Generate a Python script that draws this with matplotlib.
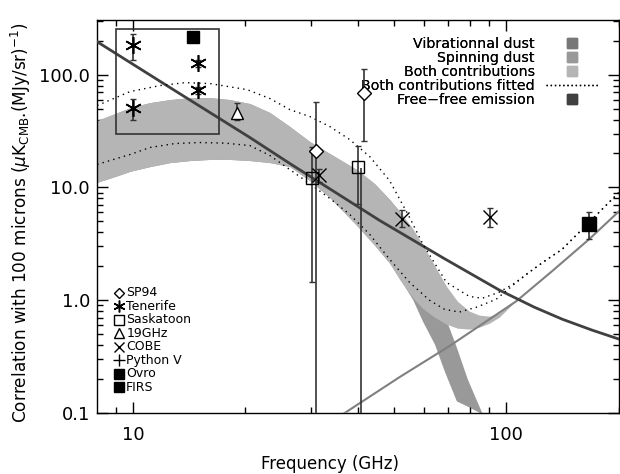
import matplotlib
matplotlib.use("Agg")
import matplotlib.pyplot as plt
import numpy as np
from matplotlib.lines import Line2D
from matplotlib.patches import Rectangle
from matplotlib.ticker import FixedLocator, NullFormatter

plt.rcParams['font.family'] = ['DejaVu Sans']
plt.rcParams['mathtext.fontset'] = 'dejavusans'

# ---- model curves (frequency in GHz, correlation in uK_CMB/(MJy/sr)) ----
ff_freq = [8.0, 12.56, 20.55, 26.29, 45.75, 67.9, 95.8, 118.9, 141.2, 169.8, 200.5]
ff_val = [196, 76.7, 27.7, 16.3, 5.1, 2.36, 1.23, 0.867, 0.679, 0.543, 0.452]

vib_freq = [33.0, 36.9, 51.76, 70.4, 106.4, 132.7, 166.7, 200.5]
vib_val = [0.08, 0.1, 0.208, 0.392, 0.98, 1.81, 3.47, 6.14]

both_freq = [8.01, 8.95, 9.82, 11.10, 12.56, 14.21, 16.07, 18.17, 20.55, 23.25,
             26.29, 29.74, 33.63, 39.72, 44.37, 48.67, 51.76, 56.08, 59.63, 64.20,
             69.12, 73.96, 79.63, 84.68, 90.07, 95.79, 103.8]
both_hi = [39.2, 45.2, 51.0, 56.5, 60.1, 62.5, 62.5, 60.1, 55.4, 46.1,
           34.7, 25.5, 20.0, 14.4, 10.8, 7.83, 6.14, 4.34, 3.13, 2.04,
           1.33, 0.98, 0.80, 0.737, 0.722, 0.767, 0.96]
both_lo = [11.1, 12.5, 13.9, 15.3, 16.6, 17.3, 17.7, 17.7, 17.3, 16.6,
           15.3, 11.5, 8.15, 4.61, 3.07, 2.13, 1.53, 1.06, 0.849, 0.708,
           0.613, 0.565, 0.554, 0.577, 0.625, 0.708, 0.92]

spin_freq = [8.01, 8.95, 9.82, 11.10, 12.56, 14.21, 16.07, 18.17, 20.55, 23.25,
             26.29, 29.74, 33.63, 39.72, 44.37, 48.67, 51.76, 56.08, 59.63, 64.20,
             68.24, 73.49, 78.65, 86.26]
spin_hi = [39.2, 45.2, 51.0, 56.5, 60.1, 62.5, 62.5, 60.1, 55.4, 46.1,
           34.7, 25.5, 20.0, 14.4, 10.8, 7.83, 6.14, 3.47, 2.08, 1.13,
           0.737, 0.384, 0.2, 0.098]
spin_lo = [11.1, 12.5, 13.9, 15.3, 16.6, 17.3, 17.7, 17.7, 17.3, 16.6,
           15.3, 11.5, 8.15, 4.61, 3.07, 2.13, 1.56, 1.02, 0.652, 0.408,
           0.235, 0.128, 0.115, 0.098]

fit_up_freq = [8.01, 9.82, 11.81, 13.78, 16.07, 20.2, 23.25, 26.29, 29.74, 33.63,
               38.04, 43.03, 48.67, 55.04, 59.63, 69.12, 79.63, 86.26, 95.79, 105.1,
               115.2, 126.4, 141.2, 166.7, 182.8, 200.5]
fit_up_val = [53.2, 70.8, 80.0, 84.9, 83.3, 73.6, 61.4, 49.0, 42.5, 34.7,
              26.6, 18.8, 11.5, 5.43, 3.19, 1.44, 1.08, 1.04, 1.18, 1.41,
              1.77, 2.21, 2.83, 4.90, 6.66, 9.04]
fit_lo_freq = [8.01, 9.82, 11.10, 12.95, 15.1, 17.6, 20.55, 23.25, 26.29, 29.74,
               33.63, 38.04, 43.03, 48.67, 55.04, 62.25, 68.24, 74.8, 83.2, 94.03,
               105.1, 115.2, 126.4, 141.2, 166.7, 182.8, 200.5]
fit_lo_val = [16.0, 19.6, 22.6, 24.5, 25.0, 24.7, 23.5, 19.2, 14.4, 10.8,
              8.0, 5.77, 3.84, 2.31, 1.44, 1.0, 0.832, 0.784, 0.867, 1.02,
              1.39, 1.77, 2.21, 2.83, 4.90, 6.66, 9.04]

# ---- measurements: freq, value, upper, lower ----
sp94 = dict(f=[31.0, 41.5], v=[21.2, 69.3], hi=[57.5, 113], lo=[0.01, 26])
tenerife = dict(f=[10.0, 10.0, 14.9, 14.9], v=[184, 51, 128, 73.6],
                hi=[231, 61, 136, 78], lo=[136, 40, 118, 68])
saskatoon = dict(f=[30.1, 40.0], v=[12.0, 15.3], hi=[22.6, 23.5], lo=[1.44, 7.1])
ghz19 = dict(f=[19.0], v=[46.0], hi=[56.6], lo=[39.2])
cobe = dict(f=[31.4, 52.7, 90.2], v=[12.8, 5.3, 5.5], hi=[14.6, 6.3, 6.6], lo=[11.2, 4.5, 4.5])
ovro = dict(f=[14.5], v=[217])
firs = dict(f=[166.7], v=[4.7], hi=[6.0], lo=[3.5])
long_bar_f = [40.9]
long_bar_lo = [0.01]
long_bar_hi = [15.0]

box_f = (9.0, 17.0)
box_v = (29.5, 255.0)

fig = plt.figure(figsize=(6.2, 4.74), dpi=100)
ax = fig.add_axes([97 / 620, 61 / 474, 522 / 620, 393 / 474])
ax.set_xscale('log')
ax.set_yscale('log')
ax.set_xlim(8.0, 200.5)
ax.set_ylim(0.1, 305)

# bands and model lines
ax.fill_between(spin_freq, spin_lo, spin_hi, color='#999999', lw=0, zorder=1)
ax.fill_between(both_freq, both_lo, both_hi, color='#b5b5b5', lw=0, zorder=2)
ax.plot(vib_freq, vib_val, color='#808080', lw=1.5, zorder=3)
ax.plot(ff_freq, ff_val, color='#404040', lw=2, zorder=4)
ax.plot(fit_up_freq, fit_up_val, color='black', ls=(0, (1, 3)), lw=1, zorder=4)
ax.plot(fit_lo_freq, fit_lo_val, color='black', ls=(0, (1, 3)), lw=1, zorder=4)

ebc = '#333333'
cap = 2.5


def errs(d):
    v = np.array(d['v'])
    return [v - np.array(d['lo']), np.array(d['hi']) - v]


ax.vlines(long_bar_f, long_bar_lo, long_bar_hi, color=ebc, lw=1.2, zorder=5)
ax.errorbar(sp94['f'], sp94['v'], yerr=errs(sp94), fmt='D', mfc='white', mec='black',
            ms=7, mew=1, ecolor=ebc, elinewidth=1.2, capsize=cap, zorder=6)
ax.errorbar(tenerife['f'], tenerife['v'], yerr=errs(tenerife), fmt='none',
            ecolor=ebc, elinewidth=1.2, capsize=cap, zorder=6)
ax.plot(tenerife['f'], tenerife['v'], ls='none', marker=(6, 2, 0), ms=12,
        mec='black', mew=1.2, zorder=7)
ax.errorbar(saskatoon['f'], saskatoon['v'], yerr=errs(saskatoon), fmt='s', mfc='none',
            mec='black', ms=9, mew=1, ecolor=ebc, elinewidth=1.2, capsize=cap, zorder=6)
ax.errorbar(ghz19['f'], ghz19['v'], yerr=errs(ghz19), fmt='^', mfc='white', mec='black',
            ms=9, mew=1, ecolor=ebc, elinewidth=1.2, capsize=cap, zorder=6)
ax.errorbar(cobe['f'], cobe['v'], yerr=errs(cobe), fmt='x', color='black',
            ms=10, mew=1, ecolor=ebc, elinewidth=1.2, capsize=cap, zorder=6)
ax.plot(ovro['f'], ovro['v'], ls='none', marker='s', ms=9, color='black', zorder=7)
ax.errorbar(firs['f'], firs['v'], yerr=errs(firs), fmt='s', color='black',
            ms=10, ecolor=ebc, elinewidth=1.2, capsize=cap, zorder=6)

ax.add_patch(Rectangle((box_f[0], box_v[0]), box_f[1] - box_f[0], box_v[1] - box_v[0],
                       fill=False, edgecolor='#333333', lw=1.2, zorder=8))

# axes styling
ax.xaxis.set_major_locator(FixedLocator([10, 100]))
ax.set_xticklabels(['10', '100'])
ax.xaxis.set_minor_locator(FixedLocator([9, 20, 30, 40, 50, 60, 70, 80, 90, 200]))
ax.xaxis.set_minor_formatter(NullFormatter())
ax.yaxis.set_major_locator(FixedLocator([0.1, 1, 10, 100]))
ax.set_yticklabels(['0.1', '1.0', '10.0', '100.0'])
ax.yaxis.set_minor_locator(FixedLocator([a * b for b in [0.1, 1, 10, 100] for a in range(2, 10)]))
ax.yaxis.set_minor_formatter(NullFormatter())
ax.tick_params(which='both', direction='in', top=True, right=True, labelsize=13)
ax.tick_params(axis='x', which='major', pad=9)
ax.tick_params(axis='y', which='major', pad=5)
ax.tick_params(which='major', length=8, width=1)
ax.tick_params(which='minor', length=4, width=1)
for s in ax.spines.values():
    s.set_linewidth(1)

ax.set_xlabel('Frequency (GHz)', fontsize=12)
ax.xaxis.set_label_coords(0.446, -0.107)
ax.set_ylabel(r'Correlation with 100 microns ($\mu$K$_{\rm CMB}$.(MJy/sr)$^{-1}$)',
              fontsize=12.2)
ax.yaxis.set_label_coords(-0.122, 0.483)

# right legend
h_right = [Line2D([], [], ls='none', marker='s', ms=7, color='#777777'),
           Line2D([], [], ls='none', marker='s', ms=7, color='#999999'),
           Line2D([], [], ls='none', marker='s', ms=7, color='#b5b5b5'),
           Line2D([], [], ls=(0, (1, 2)), color='black', lw=1),
           Line2D([], [], ls='none', marker='s', ms=7, color='#404040')]
lab_right = ['Vibrationnal dust', 'Spinning dust', 'Both contributions',
             'Both contributions fitted', 'Free\u2212free emission']
leg1 = ax.legend(h_right, lab_right, loc='upper right', markerfirst=False, frameon=False,
                 fontsize=10.2, handlelength=3.7, labelspacing=0.0, handletextpad=0.8,
                 bbox_to_anchor=(0.985, 0.99))
ax.add_artist(leg1)

# left legend, drawn entry by entry
lab_left = ['SP94', 'Tenerife', 'Saskatoon', '19GHz', 'COBE', 'Python V', 'Ovro', 'FIRS']
mk_left = [dict(marker='D', ms=5.5, mfc='white', mec='black'),
           dict(marker=(6, 2, 0), ms=8.5, mec='black', mew=1.1),
           dict(marker='s', ms=7.5, mfc='none', mec='black'),
           dict(marker='^', ms=7.5, mfc='none', mec='black'),
           dict(marker='x', ms=7, mec='black'),
           dict(marker='+', ms=8.5, mec='black'),
           dict(marker='s', ms=6.5, color='black'),
           dict(marker='s', ms=6.5, color='black')]
for i, (lab, mk) in enumerate(zip(lab_left, mk_left)):
    yy = 0.3066 - i * 0.0344
    ax.plot([0.042], [yy], ls='none', transform=ax.transAxes, clip_on=False, zorder=9, **mk)
    ax.text(0.056, yy, lab, transform=ax.transAxes, fontsize=9, va='center', ha='left')

fig.savefig('out.png', dpi=100)
